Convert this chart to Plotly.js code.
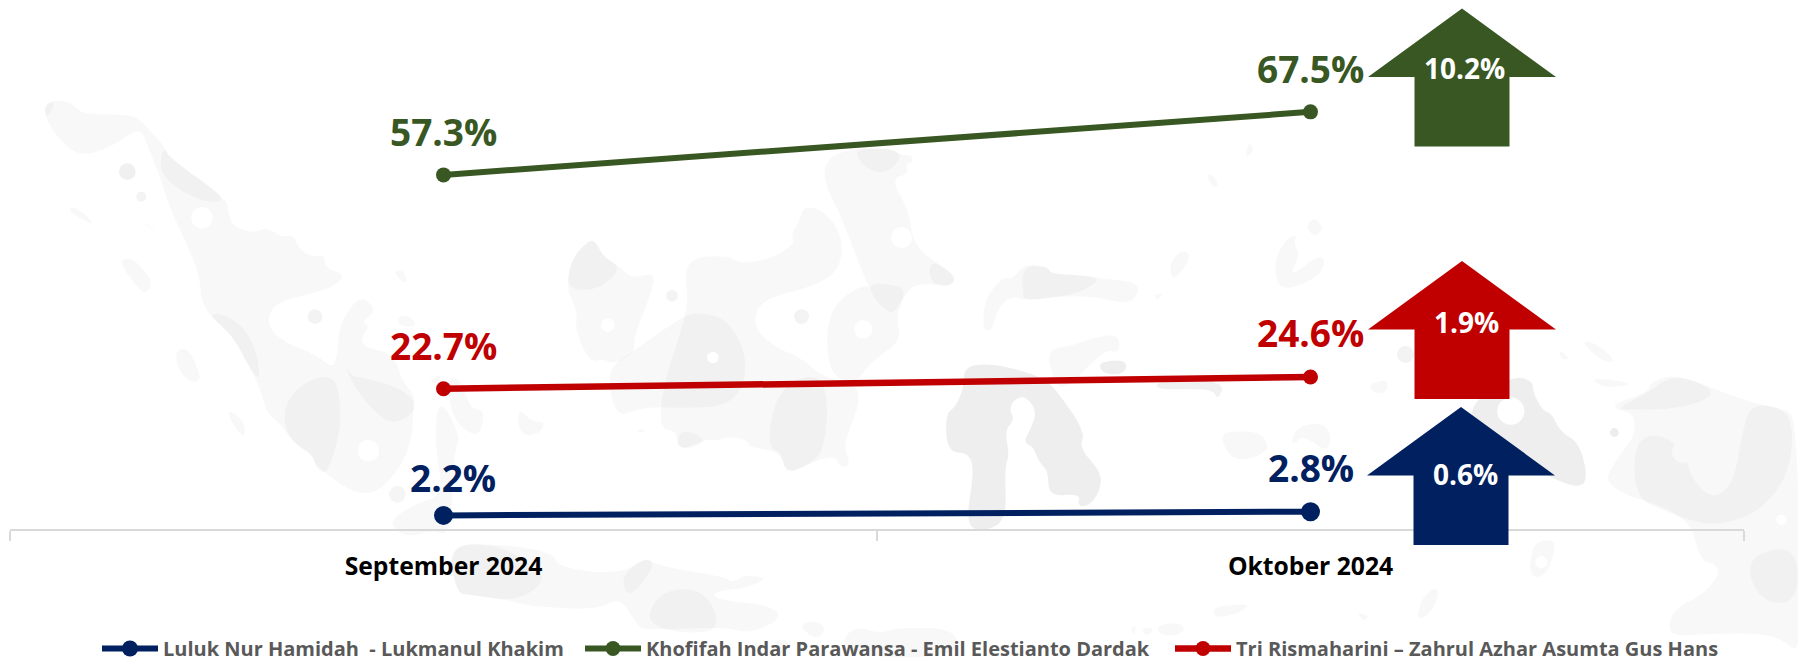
<!DOCTYPE html>
<html><head><meta charset="utf-8">
<script src="https://cdn.plot.ly/plotly-3.0.1.min.js"></script>
<style>html,body{margin:0;padding:0;background:#fff}#c{width:1798px;height:661px}</style>
</head><body><div id="c"></div>
<script>
const months = ['September 2024','Oktober 2024'];
const nameLuluk = 'Luluk Nur Hamidah  - Lukmanul Khakim';
const nameKhofifah = 'Khofifah Indar Parawansa - Emil Elestianto Dardak';
const nameTri = 'Tri Rismaharini – Zahrul Azhar Asumta Gus Hans';
const luluk = [2.2, 2.8];
const khofifah = [57.3, 67.5];
const tri = [22.7, 24.6];
const deltaLabels = ['0.6%','10.2%','1.9%'];
const colorBlue = '#002060', colorGreen = '#385723', colorRed = '#C00000';

// page pixels -> paper fractions
const L=10, W=1734, H=529;
const px=x=>(x-L)/W, py=y=>1-y/H;
const shapes=[];
const mapFill='rgba(0,0,0,0.027)';
function blob(o,pts,fill){
  const p=pts.map(a=>[o[0]+a[0]/o[2],o[1]+a[1]/o[2]]);
  const n=p.length; let d='';
  const mid=(a,b)=>[(a[0]+b[0])/2,(a[1]+b[1])/2];
  const m0=mid(p[n-1],p[0]);
  d+=`M ${px(m0[0])} ${py(m0[1])}`;
  for(let i=0;i<n;i++){const m=mid(p[i],p[(i+1)%n]);
    d+=` Q ${px(p[i][0])} ${py(p[i][1])} ${px(m[0])} ${py(m[1])}`;}
  shapes.push({type:'path',xref:'paper',yref:'paper',path:d+' Z',fillcolor:fill||mapFill,line:{width:0},layer:'below'});
}
function dot(o,x,y,r,fill){
  const cx=o[0]+x/o[2],cy=o[1]+y/o[2],R=r/o[2];
  shapes.push({type:'circle',xref:'paper',yref:'paper',x0:px(cx-R),x1:px(cx+R),y0:py(cy+R),y1:py(cy-R),fillcolor:fill,line:{width:0},layer:'below'});
}
const A=[0,80,3], B=[480,130,2.958], C=[800,130,2.958], D=[1268,131,2.945];
const WHITE='#fff', GR='#f3f3f3';
// western island
blob(A,[[133,75],[160,60],[210,65],[240,95],[270,103],[400,103],[440,140],[490,195],[510,235],[680,355],[685,400],[700,440],[765,460],[800,440],[840,470],[885,465],[890,495],[925,530],[975,525],[975,565],[1040,585],[1000,620],[940,640],[850,660],[810,690],[805,740],[850,785],[950,825],[1005,870],[1015,780],[1025,720],[1080,645],[1120,680],[1120,700],[1085,725],[1110,740],[1080,775],[1100,805],[1180,820],[1210,910],[1245,945],[1240,1000],[1235,1080],[1200,1170],[1100,1265],[945,1160],[940,1125],[880,1090],[840,1030],[800,1000],[775,910],[735,840],[700,770],[605,685],[600,590],[560,490],[510,390],[480,290],[440,190],[420,140],[330,205],[235,230],[170,170],[135,110]]);
blob(A,[[133,75],[170,62],[140,120]]);
blob(A,[[490,200],[510,235],[680,355],[640,370],[560,345],[500,300],[478,260]]);
blob(A,[[620,698],[680,705],[740,750],[775,830],[780,910],[735,840],[700,770]]);
blob(A,[[850,1030],[860,960],[920,900],[1000,885],[1020,950],[1022,1040],[1000,1130],[975,1185],[945,1160],[940,1125],[880,1090]]);
blob(A,[[1020,780],[1040,880],[1090,960],[1150,1020],[1190,1028],[1240,1000],[1245,960],[1190,920],[1100,895],[1040,885]]);
dot(A,606,413,32,WHITE);dot(A,1105,1112,32,WHITE);
dot(A,382,275,25,'#f0f0f0');dot(A,424,350,15,'#f3f3f3');dot(A,945,710,22,'#f3f3f3');dot(A,1192,1243,25,'#f5f5f5');
[[[205,395],[215,378],[255,400],[288,440]],[[418,420],[445,435],[478,465]],[[355,545],[385,533],[410,545],[455,600],[450,625],[428,645]],[[527,810],[565,805],[600,880],[597,905],[565,905],[530,860]],[[680,988],[720,1010],[738,1045],[730,1075],[695,1030]],[[1175,573],[1215,570],[1220,618]],[[1190,710],[1225,705],[1255,740],[1200,740]],[[1283,915],[1318,880],[1325,905]],[[1340,900],[1380,890],[1410,985],[1450,990],[1450,1020],[1437,1068],[1390,1050],[1355,1000]],[[1310,975],[1340,985],[1380,1070],[1365,1110],[1360,1200],[1350,1370],[1290,1350],[1220,1375],[1160,1325],[1250,1270],[1330,1245],[1305,1100]]].forEach(p=>blob(A,p));
// central islands
blob(B,[[-95,1225],[60,1225],[220,1250],[230,1295],[420,1315],[490,1262],[525,1290],[720,1320],[750,1340],[780,1315],[855,1325],[790,1355],[690,1365],[700,1390],[860,1405],[895,1445],[800,1490],[720,1470],[490,1480],[465,1465],[415,1380],[350,1420],[150,1410],[80,1390],[-30,1375],[-70,1370]]);
blob(B,[[-95,1225],[60,1225],[170,1300],[190,1330],[150,1370],[90,1392],[-30,1375],[-70,1370]]);
blob(B,[[490,1460],[520,1380],[600,1350],[680,1380],[712,1480],[600,1490]]);
blob(B,[[415,1320],[490,1262],[520,1290],[440,1390]]);
blob(B,[[1100,1560],[1070,1500],[1120,1468],[1180,1490],[1240,1470],[1410,1475],[1415,1560]]);
blob(B,[[940,1460],[1000,1450],[1025,1480],[990,1510]]);
blob(B,[[860,1530],[890,1500],[920,1520],[890,1560]]);
blob(B,[[605,410],[640,375],[735,372],[770,395],[840,385],[890,365],[930,335],[920,310],[945,270],[958,225],[1010,235],[1060,290],[1075,360],[1050,430],[960,470],[860,495],[815,530],[815,590],[870,640],[960,680],[1010,730],[1110,750],[1125,800],[1095,880],[1075,940],[1098,985],[1070,1003],[1050,965],[1000,975],[905,1022],[890,950],[795,940],[790,915],[735,908],[700,920],[670,915],[585,950],[583,890],[530,885],[540,760],[605,560],[615,500]]);
blob(B,[[255,470],[270,380],[325,322],[345,335],[365,375],[415,405],[450,440],[520,420],[505,490],[455,610],[458,660],[390,695],[365,675],[325,690],[280,590],[290,540]]);
blob(B,[[390,695],[460,650],[600,550],[650,540],[720,555],[770,620],[790,700],[770,780],[710,820],[600,822],[480,820],[405,852],[380,750]]);
blob(B,[[255,470],[270,380],[325,322],[345,335],[365,375],[415,405],[380,450],[330,475]]);
blob(B,[[850,940],[870,800],[930,735],[1010,725],[1030,820],[1020,920],[1000,975],[905,1022],[890,950]]);
blob(B,[[585,890],[640,895],[670,925],[585,950]]);
blob(B,[[110,840],[125,830],[150,860],[195,865],[175,900],[120,905]]);
blob(B,[[463,885],[485,885],[485,895],[470,895]]);
blob(B,[[1015,150],[1025,85],[1095,55],[1215,55],[1250,75],[1280,75],[1280,95],[1260,100],[1268,130],[1215,145],[1270,240],[1280,330],[1330,380],[1408,430],[1395,463],[1330,455],[1275,460],[1245,510],[1232,560],[1247,625],[1150,690],[1115,750],[1040,730],[1022,620],[1040,530],[1090,480],[1150,455],[1158,480],[1130,420],[1070,260]]);
blob(B,[[1105,55],[1215,55],[1250,75],[1220,115],[1180,130],[1130,105]]);
blob(B,[[1150,455],[1210,455],[1265,470],[1225,548],[1190,525],[1160,490]]);
blob(B,[[1330,380],[1408,430],[1395,463],[1330,455]]);
dot(B,1247,318,31,WHITE);dot(B,1134,590,27,WHITE);dot(B,689,673,17,WHITE);dot(B,378,577,20,WHITE);
dot(B,568,490,17,GR);dot(B,951,552,22,GR);
// eastern-central islands
const DK='rgba(0,0,0,0.065)';
blob(C,[[485,700],[560,690],[650,710],[720,735],[760,770],[845,895],[825,940],[890,1010],[890,1060],[860,1110],[820,1115],[830,1075],[735,1085],[735,1010],[705,980],[690,935],[660,925],[685,880],[700,830],[665,785],[630,800],[620,830],[635,855],[605,890],[620,960],[605,1000],[612,1160],[530,1190],[490,1160],[515,1010],[500,955],[435,953],[430,840],[460,820],[485,760]],DK);
blob(C,[[540,595],[545,500],[600,435],[630,440],[665,395],[735,405],[740,425],[840,430],[890,440],[1010,450],[985,518],[880,495],[790,490],[670,505],[620,490],[580,540],[570,592]]);
blob(C,[[658,400],[735,405],[740,425],[840,430],[890,440],[840,475],[790,490],[670,505],[658,490]]);
blob(C,[[725,648],[800,640],[880,610],[945,605],[945,660],[910,650],[860,690],[810,745],[760,770]]);
blob(C,[[885,685],[965,680],[965,715],[930,725],[890,715]],DK);
blob(C,[[1055,768],[1055,745],[1150,735],[1258,750],[1235,800],[1225,770],[1160,765]],'rgba(0,0,0,0.055)');
[[[1090,400],[1130,350],[1160,375],[1105,450]],[[1045,490],[1075,480],[1060,505]],[[1320,60],[1330,35],[1345,60],[1320,85]],[[1198,130],[1218,130],[1240,160],[1225,175]],[[1400,400],[1430,330],[1470,305],[1460,340],[1480,365],[1445,440],[1530,370],[1558,385],[1530,440],[1420,480]],[[1495,290],[1520,255],[1550,290],[1525,318]],[[1240,895],[1320,890],[1370,900],[1390,950],[1310,980],[1265,960]],[[1450,920],[1480,870],[1568,870],[1568,960],[1485,900],[1465,930]],[[1220,1410],[1335,1400],[1300,1430],[1225,1445]],[[1060,1460],[1140,1460],[1130,1495],[1060,1495]],[[975,1480],[995,1460],[990,1495]],[[1005,1475],[1050,1470],[1030,1500]]].forEach(p=>blob(C,p));
// far east
blob(D,[[1020,820],[1025,800],[1120,770],[1125,740],[1195,715],[1320,760],[1420,800],[1530,820],[1550,850],[1560,1010],[1580,1560],[1500,1480],[1300,1480],[1175,1490],[1190,1410],[1290,1360],[1330,1300],[1270,1260],[1240,1130],[980,1050],[1030,960],[1080,900],[1080,830]]);
blob(D,[[1120,770],[1195,715],[1320,760],[1280,800],[1180,820],[1080,820],[1022,820]]);
blob(D,[[1078,920],[1140,888],[1220,930],[1250,1030],[1310,1085],[1370,1040],[1395,900],[1420,800],[1530,820],[1548,900],[1530,1020],[1440,1130],[1300,1165],[1180,1125],[1080,1080]]);
blob(D,[[1410,1300],[1440,1240],[1560,1225],[1560,1390],[1460,1390]]);
dot(D,1222,945,32,'#f8f8f8');dot(D,1020,888,13,'#ededed');dot(D,1512,1145,15,WHITE);dot(D,1295,1300,30,WHITE);
blob(D,[[600,800],[720,720],[780,735],[780,770],[810,825],[835,830],[860,885],[920,920],[945,1045],[880,1045],[720,960],[600,870]],DK);
dot(D,715,825,40,WHITE);
[[[950,725],[1088,745],[1010,755],[975,750]],[[920,620],[960,620],[1030,680],[985,680]],[[855,640],[890,670],[865,675]],[[295,745],[355,730],[350,772],[310,772]],[[770,1310],[775,1240],[795,1205],[850,1205],[835,1270],[810,1315]],[[435,1440],[455,1370],[500,1340],[500,1380],[470,1430]],[[262,1415],[300,1430],[280,1445]]].forEach(p=>blob(D,p));
dot(D,405,658,25,'#f3f3f3');dot(D,805,1270,18,WHITE);

// up arrows
function arrow(yTip,dx,fill){
  const cx=1462+dx, sY=yTip+68.5, bY=yTip+138;
  const pts=[[cx,yTip],[cx+94,sY],[cx+47.5,sY],[cx+47.5,bY],[cx-47.5,bY],[cx-47.5,sY],[cx-94,sY]];
  shapes.push({type:'path',xref:'paper',yref:'paper',layer:'above',fillcolor:fill,line:{width:0},
    path:'M '+pts.map(p=>px(p[0])+' '+py(p[1])).join(' L ')+' Z'});
}
arrow(407,-1,colorBlue);arrow(8.5,0,colorGreen);arrow(261,0,colorRed);

const FONT='"Open Sans", Lato, sans-serif';
const mk=(name,y,color,size,w,legend)=>({x:months,y,name,type:'scatter',mode:'lines+markers',cliponaxis:false,legend,
  line:{color,width:w},marker:{color,size},hoverinfo:'skip'});
const data=[mk(nameLuluk,luluk,colorBlue,19,6,'legend'),mk(nameKhofifah,khofifah,colorGreen,15,6,'legend2'),mk(nameTri,tri,colorRed,15,6.5,'legend3')];

const ann=[];
const lab=(i,v,color,shift,dx)=>ann.push({x:months[i],y:v,xref:'x',yref:'y',text:'<b>'+v.toFixed(1)+'%</b>',showarrow:false,
  xanchor:'center',yanchor:'middle',yshift:shift,xshift:dx||0,font:{family:FONT,size:37,color}});
lab(0,khofifah[0],colorGreen,43);lab(1,khofifah[1],colorGreen,43);
lab(0,tri[0],colorRed,43);lab(1,tri[1],colorRed,44);
lab(0,luluk[0],colorBlue,38,9);lab(1,luluk[1],colorBlue,44);
[[1465,473.5],[1464,67.5],[1466,321.5]].forEach((p,i)=>ann.push({xref:'paper',yref:'paper',x:px(p[0]),y:py(p[1]),text:'<b>'+deltaLabels[i]+'</b>',
  showarrow:false,xanchor:'center',yanchor:'middle',font:{family:FONT,size:28,color:'#fff'}}));

const leg=x=>({orientation:'h',x:px(x),y:py(629),xanchor:'left',yanchor:'top',itemwidth:56,itemsizing:'trace',
    bgcolor:'rgba(0,0,0,0)',font:{family:FONT,size:20,color:'#595959',weight:700}});
Plotly.newPlot('c',data,{
  width:1798,height:661,showlegend:true,
  margin:{l:L,r:1798-L-W,t:0,b:661-H,autoexpand:false},
  paper_bgcolor:'#fff',plot_bgcolor:'rgba(0,0,0,0)',
  font:{family:FONT},
  xaxis:{type:'category',range:[-0.5,1.5],tickson:'boundaries',ticks:'outside',ticklen:10,tickcolor:'#d9d9d9',tickwidth:1.5,
    showline:true,linecolor:'#d9d9d9',linewidth:1.5,showgrid:false,zeroline:false,ticklabelstandoff:15,
    tickfont:{family:FONT,size:24.7,color:'#000',weight:700}},
  yaxis:{visible:false,range:[0,529/6.18],fixedrange:true},
  legend:leg(97),legend2:leg(580),legend3:leg(1170),
  shapes,annotations:ann
},{displayModeBar:false,staticPlot:true});
</script></body></html>
